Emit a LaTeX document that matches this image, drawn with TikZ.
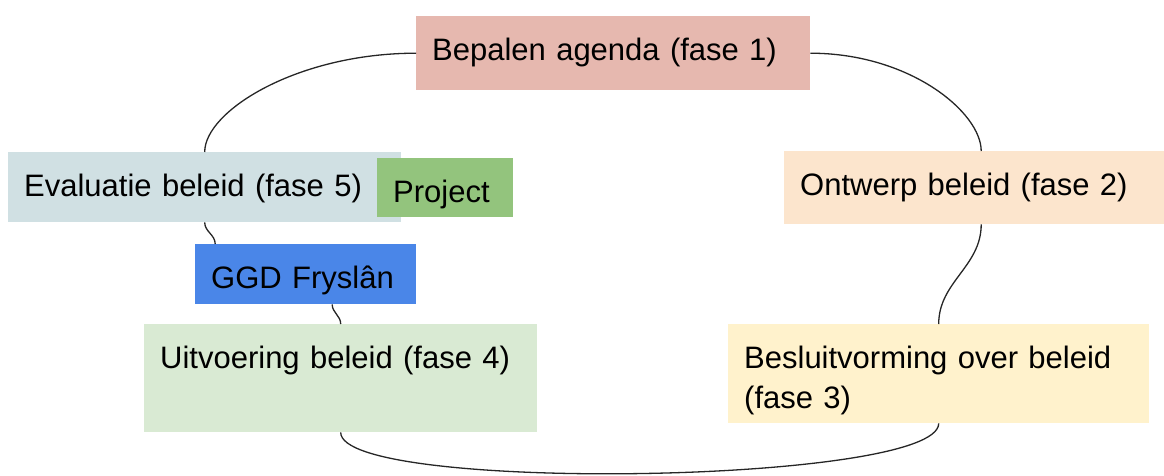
\documentclass[tikz,border=0pt]{standalone}
\usepackage{fontspec}
\setmainfont{Liberation Sans}
\usetikzlibrary{calc,positioning}
\definecolor{fase1}{HTML}{E6B8AF}
\definecolor{fase2}{HTML}{FCE5CD}
\definecolor{fase3}{HTML}{FFF2CC}
\definecolor{fase4}{HTML}{D9EAD3}
\definecolor{fase5}{HTML}{D0E0E3}
\definecolor{projectgreen}{HTML}{93C47D}
\definecolor{ggdblue}{HTML}{4A86E8}
\tikzset{
    every node/.style={font=\fontsize{31}{40}\selectfont},
    phase box/.style={anchor=north west,inner xsep=16pt,inner ysep=0pt,
        align=left,text height=44pt}
}

\begin{document}
\begin{tikzpicture}[
            x = 1pt, y = -1pt, % pixel grid, y downwards
            link/.style = {line width=1.3pt, black!85}
        ]

        \useasboundingbox (0,0) rectangle (1164,475);

        \node[phase box, fill = fase1, text width=362pt, text depth=30pt] at (416,16) (f1) {Bepalen agenda (fase 1)};
        \node[phase box, fill = fase2, text width=362pt, text depth=29pt] at (784,151) (f2) {Ontwerp beleid (fase 2)};
        \node[phase box, fill = fase3, text width=389pt, text depth=55pt] at (728,324) (f3) {Besluitvorming over beleid\\(fase 3)};
        \node[phase box, fill = fase4, text width=361pt, text depth=64pt] at (144,324) (f4) {Uitvoering beleid (fase 4)};
        \node[phase box, fill = fase5, text width=361pt, text depth=26pt] at (8,152) (f5) {Evaluatie beleid (fase 5)};

        \node[phase box, fill = projectgreen, text width=104pt, text depth=15pt] at (377,158) (prj) {Project};
        \node[phase box, fill = ggdblue, text width=189pt, text depth=16pt] at (195,244) (ggd) {GGD Fryslân};

        \draw[link] (f1.west) to[out=180, in=90, out looseness=1.3, in looseness=0.45] (f5.north);
        \draw[link] (f1.east) to[out=0, in=90, out looseness=1.3, in looseness=0.5] (f2.north);
        \draw[link] (f2.south) to[out=-90, in=90] (f3.north);
        \draw[link] (f3.south) to[out=-90, in=-90, looseness=0.26] (f4.south);
        \draw[link] (f4.north) to[out=90, in=-90] ($(ggd.south)+(26.5,0)$);
        \draw[link] ($(ggd.north)+(-90.5,0)$) to[out=90, in=-90] (f5.south);

  \end{tikzpicture}
\end{document}
